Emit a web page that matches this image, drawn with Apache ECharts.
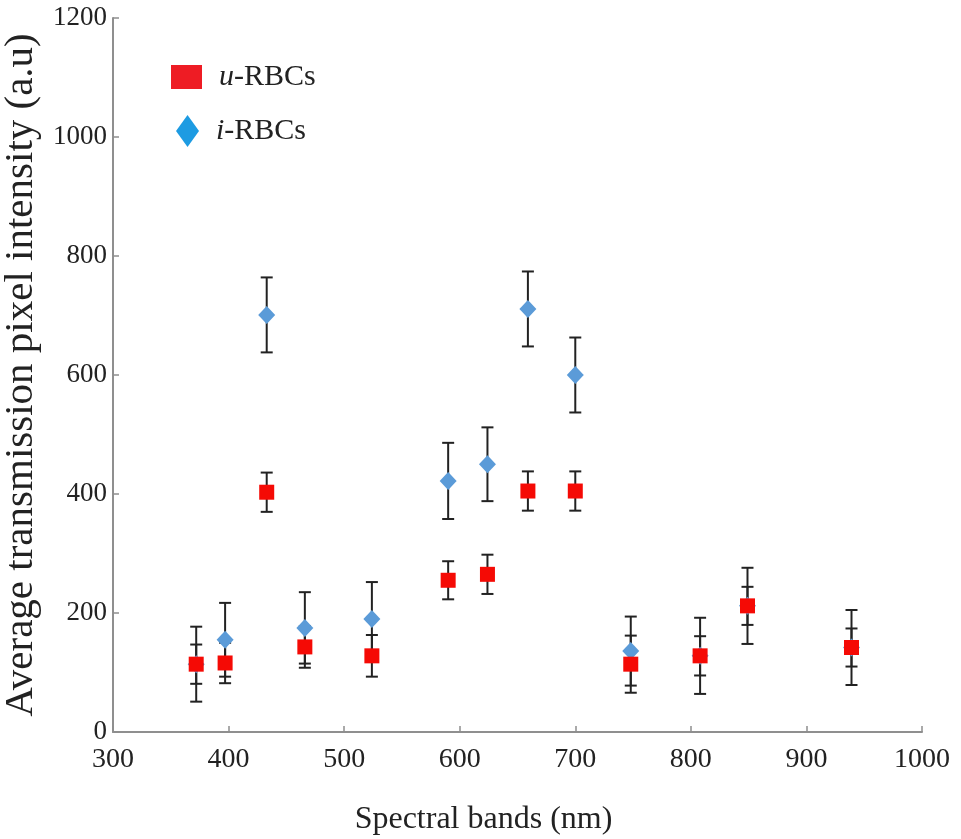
<!DOCTYPE html>
<html>
<head>
<meta charset="utf-8">
<script src="https://cdn.jsdelivr.net/npm/echarts@6/dist/echarts.min.js"></script>
<style>
  html, body { margin: 0; padding: 0; background: #fff; }
  #chart { width: 961px; height: 839px; }
</style>
</head>
<body>
<div id="chart"></div>
<script>
// Spectral band centres (nm)
const bands = [372, 397, 433, 466, 524, 590, 624, 659, 700, 748, 808, 849, 939];
// u-RBCs: mean transmission intensity and error half-width
const uMean = [114, 116, 403, 143, 128, 255, 265, 405, 405, 114, 128, 212, 142];
const uErr  = [33, 34, 33, 35, 35, 32, 33, 33, 33, 48, 33, 32, 32];
// i-RBCs: mean transmission intensity and error half-width
const iMean = [114, 155, 701, 175, 190, 422, 450, 711, 600, 136, 128, 212, 142];
const iErr  = [63, 62, 63, 60, 62, 64, 62, 63, 63, 58, 64, 64, 63];

const xTicks = [300, 1000, 100];   // min, max, step
const yTicks = [0, 1200, 200];

const FONT = '"Liberation Serif", "DejaVu Serif", serif';
const INK = '#222';

const uPoints = bands.map((b, k) => [b, uMean[k]]);
const iPoints = bands.map((b, k) => [b, iMean[k]]);
const uBars = bands.map((b, k) => [b, uMean[k] - uErr[k], uMean[k] + uErr[k]]);
const iBars = bands.map((b, k) => [b, iMean[k] - iErr[k], iMean[k] + iErr[k]]);

function errorBar(params, api) {
  const x = api.value(0);
  const lo = api.coord([x, api.value(1)]);
  const hi = api.coord([x, api.value(2)]);
  const hw = 6;
  const style = { stroke: INK, lineWidth: 2 };
  return {
    type: 'group',
    children: [
      { type: 'line', shape: { x1: lo[0], y1: lo[1], x2: hi[0], y2: hi[1] }, style },
      { type: 'line', shape: { x1: hi[0] - hw, y1: hi[1], x2: hi[0] + hw, y2: hi[1] }, style },
      { type: 'line', shape: { x1: lo[0] - hw, y1: lo[1], x2: lo[0] + hw, y2: lo[1] }, style }
    ]
  };
}

const chart = echarts.init(document.getElementById('chart'), null, { renderer: 'canvas' });

const legendText = {
  fontFamily: FONT,
  fontSize: 30,
  color: INK,
  padding: [0, 0, 0, 12],
  rich: { it: { fontFamily: FONT, fontSize: 30, fontStyle: 'italic', color: INK } }
};
const legendFmt = name => '{it|' + name.charAt(0) + '}-' + name.slice(2);
const plain = v => String(v);

chart.setOption({
  backgroundColor: '#fff',
  animation: false,
  grid: { left: 113, right: 39, top: 18, bottom: 107, containLabel: false, outerBoundsMode: 'none' },
  legend: [
    {
      data: [{ name: 'u-RBCs', icon: 'rect', itemStyle: { color: '#ee1c24', opacity: 1 } }],
      left: 166, top: 57, itemWidth: 31, itemHeight: 24,
      formatter: legendFmt, textStyle: legendText, selectedMode: false
    },
    {
      data: [{ name: 'i-RBCs', icon: 'diamond', itemStyle: { color: '#1d9be2', opacity: 1 } }],
      left: 171, top: 110, itemWidth: 23, itemHeight: 32,
      formatter: legendFmt, textStyle: legendText, selectedMode: false
    }
  ],
  xAxis: {
    type: 'value',
    min: xTicks[0], max: xTicks[1], interval: xTicks[2],
    name: 'Spectral bands (nm)',
    nameLocation: 'middle',
    nameGap: 72,
    nameTextStyle: { fontFamily: FONT, fontSize: 32, color: INK, padding: [0, 68, 0, 0] },
    axisLine: { lineStyle: { color: '#8f8f8f', width: 2 } },
    axisTick: { inside: true, length: 6, lineStyle: { color: '#8f8f8f', width: 1.5 } },
    axisLabel: { fontFamily: FONT, fontSize: 28, color: INK, margin: 14, formatter: plain },
    splitLine: { show: false }
  },
  yAxis: {
    type: 'value',
    min: yTicks[0], max: yTicks[1], interval: yTicks[2],
    name: 'Average transmission pixel intensity (a.u)',
    nameLocation: 'middle',
    nameGap: 60,
    nameTextStyle: { fontFamily: FONT, fontSize: 41, color: INK },
    axisLine: { show: true, lineStyle: { color: '#8f8f8f', width: 2 } },
    axisTick: { show: true, inside: true, length: 6, lineStyle: { color: '#8f8f8f', width: 1.5 } },
    axisLabel: { fontFamily: FONT, fontSize: 27, color: INK, margin: 6, formatter: plain },
    splitLine: { show: false }
  },
  series: [
    {
      name: 'i-RBCs error', type: 'custom', data: iBars,
      renderItem: errorBar, encode: { x: 0, y: [1, 2] }, z: 1, silent: true
    },
    {
      name: 'u-RBCs error', type: 'custom', data: uBars,
      renderItem: errorBar, encode: { x: 0, y: [1, 2] }, z: 1, silent: true
    },
    {
      name: 'i-RBCs', type: 'scatter', data: iPoints,
      symbol: 'diamond', symbolSize: [17, 18],
      itemStyle: { color: '#5b9bd8', opacity: 1 }, z: 3
    },
    {
      name: 'u-RBCs', type: 'scatter', data: uPoints,
      symbol: 'rect', symbolSize: 15,
      itemStyle: { color: '#f50a05', opacity: 1 }, z: 4
    }
  ]
});
</script>
</body>
</html>
